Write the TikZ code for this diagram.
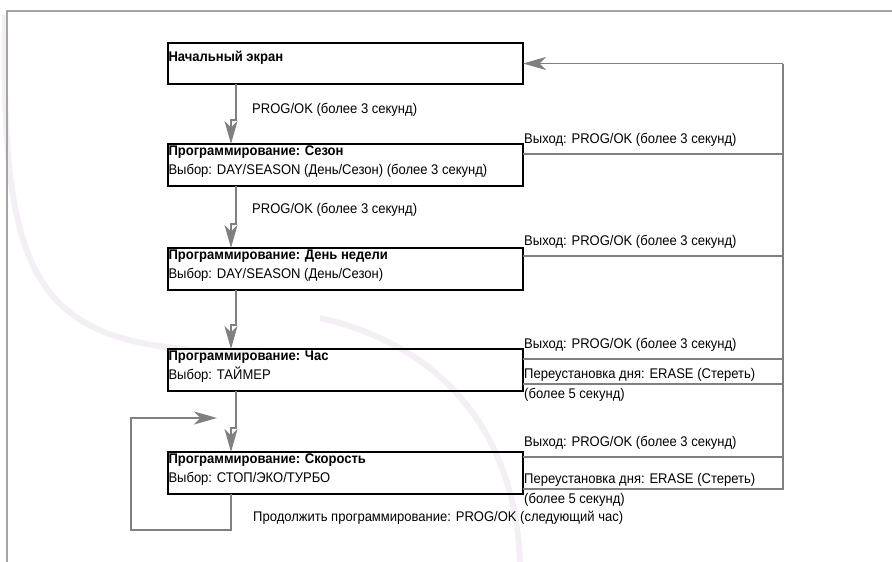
\documentclass[tikz,border=0pt]{standalone}
\usepackage{fontspec}
\setmainfont[FakeStretch=0.93]{Liberation Sans}
\usetikzlibrary{arrows.meta}

\definecolor{lngray}{RGB}{128,128,128}
\definecolor{frgray}{RGB}{165,165,165}
\definecolor{wmark}{RGB}{244,239,245}

% box text: bold title, then the selection line
\newcommand{\sttext}[2]{\parbox[c][38pt][t]{354pt}{\textbf{#1}\\#2}}

\begin{document}
\begin{tikzpicture}[x=1pt,y=-1pt,font=\fontsize{14}{18.5}\selectfont,
  stbox/.style={draw=black,line width=1.2pt,inner xsep=0.5pt,inner ysep=2pt,outer sep=0pt,anchor=north west},
  conn/.style={draw=lngray,line width=1.3pt},
  flow/.style={conn,-{Stealth[length=23pt,width=13pt,inset=6.5pt]}},
  lbl/.style={inner sep=0pt,anchor=base west}]
  \useasboundingbox (0,0) rectangle (892,562);
  % faint background marks and frame
  \draw[wmark,line width=6pt] (5,15) .. controls (0,300) and (40,352) .. (260,352);
  \draw[wmark,line width=6pt] (320,318) .. controls (440,345) and (515,430) .. (520,562);
  \draw[frgray,line width=1.5pt] (7,562) -- (7,11) -- (892,11);

  % states
  \node[stbox] (start) at (168,43) {\parbox[c][37pt][t]{354pt}{\rule{0pt}{16.5pt}\textbf{Начальный экран}}};
  \node[stbox] (seas) at (168,144) {\sttext{Программирование: Сезон}{Выбор: DAY/SEASON (День/Сезон) (более 3 секунд)}};
  \node[stbox] (day) at (168,248) {\sttext{Программирование: День недели}{Выбор: DAY/SEASON (День/Сезон)}};
  \node[stbox] (hour) at (168,349) {\sttext{Программирование: Час}{Выбор: ТАЙМЕР}};
  \node[stbox] (spd) at (168,452) {\sttext{Программирование: Скорость}{Выбор: СТОП/ЭКО/ТУРБО}};

  % down the chain
  \foreach \a/\b in {start/seas,seas/day,day/hour,hour/spd}{
    \draw[flow] ([xshift=68pt]\a.south west) -- ([xshift=68pt,yshift=24pt]\b.north west)
      -- ([xshift=63pt,yshift=24pt]\b.north west) -- ([xshift=63pt]\b.north west);
  }
  \node[lbl] (p1) at (252,113.5) {PROG/OK (более 3 секунд)};
  \node[lbl] (p2) at (252,213.5) {PROG/OK (более 3 секунд)};

  % loop back to next hour
  \coordinate (lpB) at ([xshift=63pt,yshift=-36pt]spd.south west);
  \coordinate (lpL) at ([xshift=-100pt]lpB);
  \coordinate (lpT) at ([xshift=49pt,yshift=-27pt]hour.south west);
  \draw[flow] ([xshift=63pt]spd.south west) -- (lpB) -- (lpL) |- (lpT);
  \node[lbl] (cont) at (253,521.5) {Продолжить программирование: PROG/OK (следующий час)};

  % exits back to the start screen
  \coordinate (busT) at ([xshift=260pt]start.east);
  \foreach \n/\dy in {seas/10,day/8,hour/10,spd/5}{
    \coordinate (x\n) at ([yshift=-\dy pt]\n.north east);
    \draw[conn] (x\n) -| (busT);
    \node[lbl] (lx\n) at ([xshift=1pt,yshift=11pt]x\n) {Выход: PROG/OK (более 3 секунд)};
  }
  \foreach \n/\dy in {hour/7,spd/5}{
    \coordinate (r\n) at ([yshift=\dy pt]\n.south east);
    \draw[conn] (r\n) -| (busT);
    \node[lbl] (ra\n) at ([xshift=1pt,yshift=6pt]r\n) {Переустановка дня: ERASE (Стереть)};
    \node[lbl] (rb\n) at ([xshift=1pt,yshift=-14pt]r\n) {(более 5 секунд)};
  }
  \draw[flow] (busT) -- (start.east);
\end{tikzpicture}
\end{document}
